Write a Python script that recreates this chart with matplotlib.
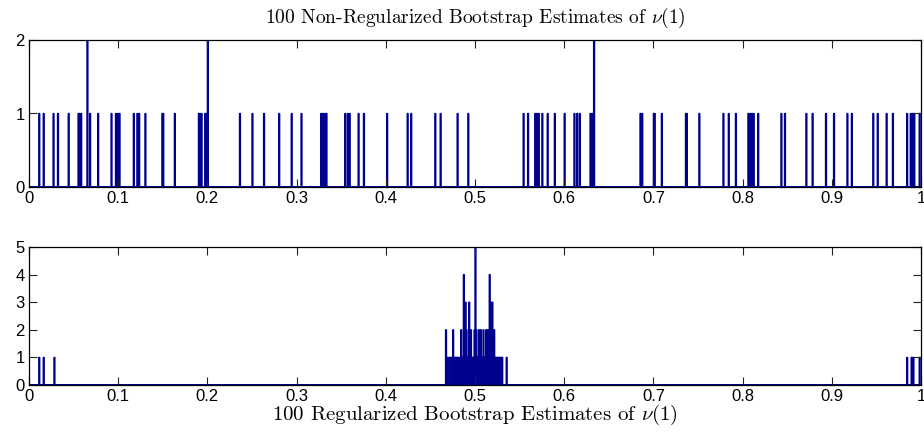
import numpy as np
import matplotlib
matplotlib.use("Agg")
import matplotlib.pyplot as plt

plt.rcParams["font.family"] = ["Liberation Sans", "DejaVu Sans"]
plt.rcParams["mathtext.fontset"] = "cm"

# 100 non-regularized bootstrap estimates
est_plain = [
    0.012, 0.017, 0.028, 0.033, 0.045, 0.056, 0.057, 0.059, 0.066, 0.066,
    0.069, 0.078, 0.093, 0.098, 0.100, 0.102, 0.118, 0.122, 0.124, 0.131,
    0.150, 0.151, 0.164, 0.191, 0.192, 0.194, 0.198, 0.199, 0.201, 0.201,
    0.237, 0.251, 0.264, 0.281, 0.295, 0.306,
    0.328, 0.330, 0.332, 0.334, 0.355, 0.358, 0.360, 0.370, 0.376, 0.402,
    0.425, 0.429, 0.456, 0.462, 0.481, 0.493, 0.555, 0.560, 0.568, 0.570,
    0.572, 0.576, 0.582, 0.590, 0.601, 0.612, 0.615, 0.618, 0.630, 0.632,
    0.634, 0.634,
    0.686, 0.688, 0.701, 0.702, 0.710, 0.737, 0.738, 0.752, 0.779, 0.785,
    0.793, 0.807, 0.809, 0.811, 0.813, 0.818, 0.844, 0.848, 0.872, 0.879,
    0.894, 0.903, 0.918, 0.923, 0.947, 0.952, 0.962, 0.969, 0.985, 0.989,
    0.991, 0.993, 0.999,
]

# regularized estimates: outliers plus the cluster around 0.5 (bin, count)
reg_outliers = [0.012, 0.017, 0.029, 0.985, 0.990, 0.992, 0.999]
reg_bins = [
    0.468, 0.469, 0.470, 0.472, 0.473, 0.474, 0.476, 0.477, 0.478, 0.479,
    0.480, 0.481, 0.483, 0.484, 0.485, 0.486, 0.487, 0.488, 0.489, 0.490,
    0.491, 0.492, 0.493, 0.494, 0.495, 0.496, 0.497, 0.498, 0.499, 0.500,
    0.501, 0.502, 0.503, 0.504, 0.505, 0.506, 0.507, 0.508, 0.509, 0.510,
    0.511, 0.512, 0.513, 0.514, 0.515, 0.516, 0.517, 0.518, 0.519, 0.520,
    0.521, 0.522, 0.523, 0.524, 0.525, 0.526, 0.527, 0.528, 0.529, 0.530,
    0.531, 0.536,
]
reg_counts = [
    2, 1, 1, 1, 1, 1, 2, 1, 1, 1,
    1, 1, 1, 1, 2, 1, 1, 4, 1, 3,
    2, 1, 1, 3, 1, 2, 1, 1, 1, 2,
    5, 2, 1, 1, 2, 1, 2, 1, 1, 2,
    1, 1, 2, 1, 2, 1, 4, 3, 1, 3,
    1, 2, 1, 1, 1, 1, 1, 1, 1, 1,
    1, 1,
]

xticks = np.round(np.arange(0, 1.01, 0.1), 1)
xlabels = ["0"] + ["%.1f" % t for t in xticks[1:-1]] + ["1"]

edges = np.linspace(0, 1, 1001)
color = "#00008F"

fig = plt.figure(figsize=(9.24, 4.41), dpi=100)
ax1 = fig.add_axes([29 / 924, 1 - 187 / 441, 892 / 924, 147 / 441])
ax2 = fig.add_axes([29 / 924, 1 - 385 / 441, 892 / 924, 138 / 441])

vals = np.array(est_plain) - 0.0005
ax1.hist(vals, bins=edges, histtype="stepfilled", color=color, edgecolor=color, lw=1)

w = list(np.ones(len(reg_outliers))) + reg_counts
v = np.array(reg_outliers + reg_bins) - 0.0005
ax2.hist(v, bins=edges, weights=w, histtype="stepfilled", color=color, edgecolor=color, lw=1)

for ax, ymax in [(ax1, 2), (ax2, 5)]:
    ax.set_xlim(0, 1)
    ax.set_ylim(0, ymax)
    ax.set_xticks(xticks)
    ax.set_xticklabels(xlabels)
    ax.set_yticks(range(ymax + 1))
    ax.tick_params(direction="in", length=5.5, width=0.8, top=True, right=True,
                   labelsize=12, pad=3, color="#222222")
    for s in ax.spines.values():
        s.set_linewidth(0.9)

ax1.set_title(r"100 Non-Regularized Bootstrap Estimates of $\nu(1)$",
              fontfamily="cmr10", fontsize=14, pad=12)
ax2.set_xlabel(r"100 Regularized Bootstrap Estimates of $\nu(1)$",
               fontfamily="cmr10", fontsize=15, labelpad=-1)

fig.savefig("out.png", dpi=100)
